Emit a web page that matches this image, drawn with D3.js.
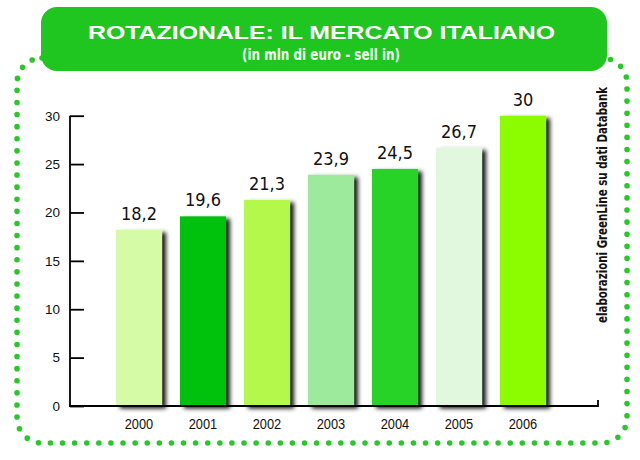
<!DOCTYPE html>
<html>
<head>
<meta charset="utf-8">
<script src="https://cdn.jsdelivr.net/npm/d3@7"></script>
<style>
  html, body { margin: 0; padding: 0; background: #ffffff; }
  svg { display: block; }
</style>
</head>
<body>
<svg id="chart" width="640" height="460"></svg>
<script>
// ---- data ----
const years = ["2000", "2001", "2002", "2003", "2004", "2005", "2006"];
const values = [18.2, 19.6, 21.3, 23.9, 24.5, 26.7, 30];
const valueLabels = ["18,2", "19,6", "21,3", "23,9", "24,5", "26,7", "30"];
const yTicks = [0, 5, 10, 15, 20, 25, 30];
const barColors = ["#d6fba6", "#00c20c", "#b3f84c", "#9eea9c", "#27d327", "#e2f8de", "#8cfd05"];
const title = "ROTAZIONALE: IL MERCATO ITALIANO";
const subtitle = "(in mln di euro - sell in)";
const source = "elaborazioni GreenLine su dati Databank";

const svg = d3.select("#chart");
const cond = "'DejaVu Sans Condensed', 'Liberation Sans Narrow', sans-serif";
const sans = "'Liberation Sans', Arial, sans-serif";

// shadow filter
const defs = svg.append("defs");
const f = defs.append("filter").attr("id", "shadow")
  .attr("x", "-20%").attr("y", "-10%").attr("width", "150%").attr("height", "130%");
f.append("feDropShadow").attr("dx", 4).attr("dy", 2.5).attr("stdDeviation", 2)
  .attr("flood-color", "#000").attr("flood-opacity", 0.9);

// dotted frame
svg.append("rect")
  .attr("x", 17).attr("y", 58).attr("width", 610).attr("height", 385)
  .attr("rx", 25).attr("ry", 25)
  .attr("fill", "none").attr("stroke", "#27c927").attr("stroke-width", 5.6)
  .attr("stroke-linecap", "round").attr("stroke-dasharray", "0 12.1");

// title box
svg.append("rect")
  .attr("x", 41).attr("y", 7).attr("width", 566).attr("height", 64)
  .attr("rx", 16).attr("ry", 16).attr("fill", "#1fc61f");
svg.append("text")
  .attr("x", 88).attr("y", 38.5)
  .attr("textLength", 467).attr("lengthAdjust", "spacingAndGlyphs")
  .attr("font-family", sans)
  .attr("font-weight", "bold").attr("font-size", 19).attr("fill", "#ffffff")
  .text(title);
svg.append("text")
  .attr("x", 242).attr("y", 60)
  .attr("textLength", 158).attr("lengthAdjust", "spacingAndGlyphs")
  .attr("font-family", cond).attr("font-weight", "bold")
  .attr("font-size", 15).attr("fill", "#f2fff0")
  .text(subtitle);

// scales
const x = d3.scaleBand().domain(years).range([107, 555])
  .paddingInner(0.28).paddingOuter(0.14);
const y = d3.scaleLinear().domain([0, 30]).range([406, 115.7]);

// bars
svg.append("g").selectAll("rect").data(years).join("rect")
  .attr("x", d => x(d))
  .attr("y", (d, i) => y(values[i]))
  .attr("width", x.bandwidth())
  .attr("height", (d, i) => y(0) - y(values[i]))
  .attr("fill", (d, i) => barColors[i])
  .attr("filter", "url(#shadow)");

// value labels
svg.append("g").selectAll("text").data(years).join("text")
  .attr("x", d => x(d) + x.bandwidth() / 2)
  .attr("y", (d, i) => y(values[i]) - 10)
  .attr("text-anchor", "middle")
  .attr("font-family", cond).attr("font-size", 18).attr("fill", "#111")
  .text((d, i) => valueLabels[i]);

// y axis
const yAxis = svg.append("g").attr("transform", "translate(70,0)")
  .call(d3.axisLeft(y).tickValues(yTicks).tickSize(-14).tickPadding(10).tickSizeOuter(0));
yAxis.select(".domain").attr("stroke", "#000").attr("stroke-width", 1.8)
  .attr("d", `M0,${y(30)}V${y(0) + 0.9}`);
yAxis.selectAll(".tick line").attr("stroke", "#000").attr("stroke-width", 1.8);
yAxis.selectAll(".tick text").attr("font-family", sans).attr("font-size", 13.5).attr("fill", "#111");

// x axis
const xAxis = svg.append("g").attr("transform", `translate(0,${y(0)})`)
  .call(d3.axisBottom(x).tickSize(0).tickPadding(11.5));
xAxis.select(".domain").attr("stroke", "#000").attr("stroke-width", 1.8)
  .attr("d", "M69.1,0H598V-6");
xAxis.selectAll(".tick text").attr("font-family", sans).attr("font-size", 15.5)
  .attr("textLength", 28.5).attr("lengthAdjust", "spacingAndGlyphs").attr("fill", "#111");

// source (vertical)
svg.append("text")
  .attr("transform", "translate(607,205) rotate(-90)")
  .attr("text-anchor", "middle")
  .attr("textLength", 236).attr("lengthAdjust", "spacingAndGlyphs")
  .attr("font-family", cond).attr("font-weight", "bold")
  .attr("font-size", 14).attr("fill", "#111")
  .text(source);
</script>
</body>
</html>
